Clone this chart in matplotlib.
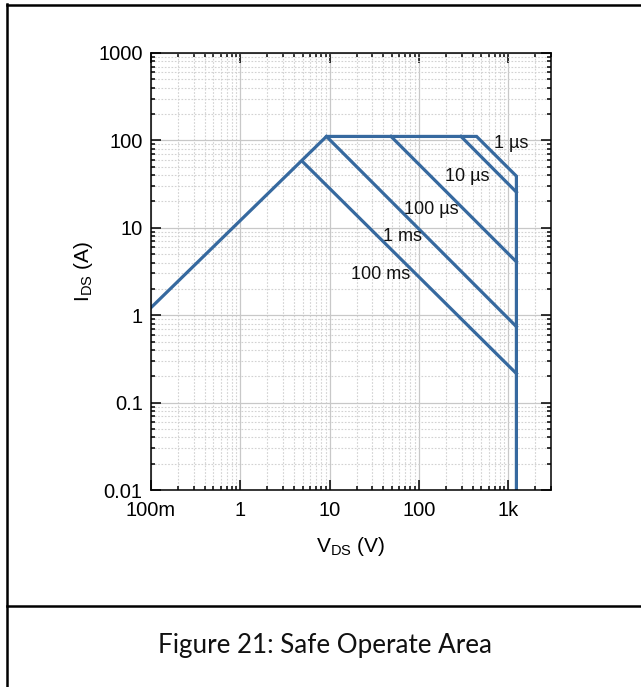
import matplotlib
matplotlib.use('Agg')
import matplotlib.pyplot as plt
from matplotlib.lines import Line2D
from matplotlib.ticker import LogLocator, FixedLocator, FixedFormatter, NullFormatter

plt.rcParams['font.family'] = ['Liberation Sans', 'DejaVu Sans']
plt.rcParams['mathtext.fontset'] = 'custom'
plt.rcParams['mathtext.rm'] = 'Liberation Sans'

# SOA boundary (DC limit + 1 us pulse + voltage limit)
dc_v = [0.1, 9.2, 441, 1230, 1230]
dc_i = [1.22, 111, 111, 39, 0.01]

# pulse lines: (start V, start I) -> (end V, end I)
pulse_names = ['10 µs', '100 µs', '1 ms', '100 ms']
pulse_v = [[295, 1230], [48.6, 1230], [9.2, 1230], [4.9, 1230]]
pulse_i = [[111, 25.6], [111, 4.08], [111, 0.74], [58, 0.215]]

# label positions (data coords)
label_txt = ['1 µs', '10 µs', '100 µs', '1 ms', '100 ms']
label_v = [1075, 343, 136, 66, 36.7]
label_i = [91, 39, 16.4, 8.0, 2.95]

xticks = [0.1, 1, 10, 100, 1000]
xticklabels = ['100m', '1', '10', '100', '1k']
yticks = [0.01, 0.1, 1, 10, 100, 1000]
yticklabels = ['0.01', '0.1', '1', '10', '100', '1000']

col = '#36699f'

fig = plt.figure(figsize=(6.41, 6.87), dpi=100)
ax = fig.add_axes([151/641, 1-490/687, 400/641, 437/687])

ax.plot(dc_v, dc_i, color=col, lw=2.3, solid_joinstyle='miter')
for v, i in zip(pulse_v, pulse_i):
    ax.plot(v, i, color=col, lw=2.3)

ax.set_xscale('log')
ax.set_yscale('log')
ax.set_xlim(0.1, 3000)
ax.set_ylim(0.01, 1000)

for t, v, i in zip(label_txt, label_v, label_i):
    ax.text(v, i, t, fontsize=13, ha='center', va='center', color='#111111')

ax.xaxis.set_major_locator(FixedLocator(xticks))
ax.xaxis.set_major_formatter(FixedFormatter(xticklabels))
ax.yaxis.set_major_locator(FixedLocator(yticks))
ax.yaxis.set_major_formatter(FixedFormatter(yticklabels))
ax.xaxis.set_minor_locator(LogLocator(base=10, subs=range(2, 10), numticks=20))
ax.yaxis.set_minor_locator(LogLocator(base=10, subs=range(2, 10), numticks=20))
ax.xaxis.set_minor_formatter(NullFormatter())
ax.yaxis.set_minor_formatter(NullFormatter())

ax.tick_params(which='both', direction='in', top=True, right=True, width=1.1)
ax.tick_params(which='major', length=7, labelsize=14.5, pad=6)
ax.tick_params(axis='x', which='major', pad=8)
ax.tick_params(which='minor', length=3)
for s in ax.spines.values():
    s.set_linewidth(1.1)

ax.grid(True, which='major', color='#c8c8c8', lw=0.9, ls='-')
ax.grid(True, which='minor', color='#d2d2d2', lw=0.8, ls=(0, (1.5, 1.5)))
ax.set_axisbelow(True)

ax.set_xlabel(r'V$_{\mathregular{DS}}$ (V)', fontsize=15, labelpad=11)
ax.set_ylabel(r'I$_{\mathregular{DS}}$ (A)', fontsize=15, labelpad=2)

# frame of the document table
fig.add_artist(Line2D([6.5/641, 6.5/641], [0, 1-4/687], color='black', lw=1.8))
fig.add_artist(Line2D([6.5/641, 1], [1-4.5/687, 1-4.5/687], color='black', lw=1.8))
fig.add_artist(Line2D([6.5/641, 1], [1-606/687, 1-606/687], color='black', lw=1.8))

fig.text(325/641, 1-646/687, 'Figure 21: Safe Operate Area', fontsize=18.7,
         family=['Lato', 'DejaVu Sans'], ha='center', va='center', color='#111111')

fig.savefig('out.png', dpi=100)
